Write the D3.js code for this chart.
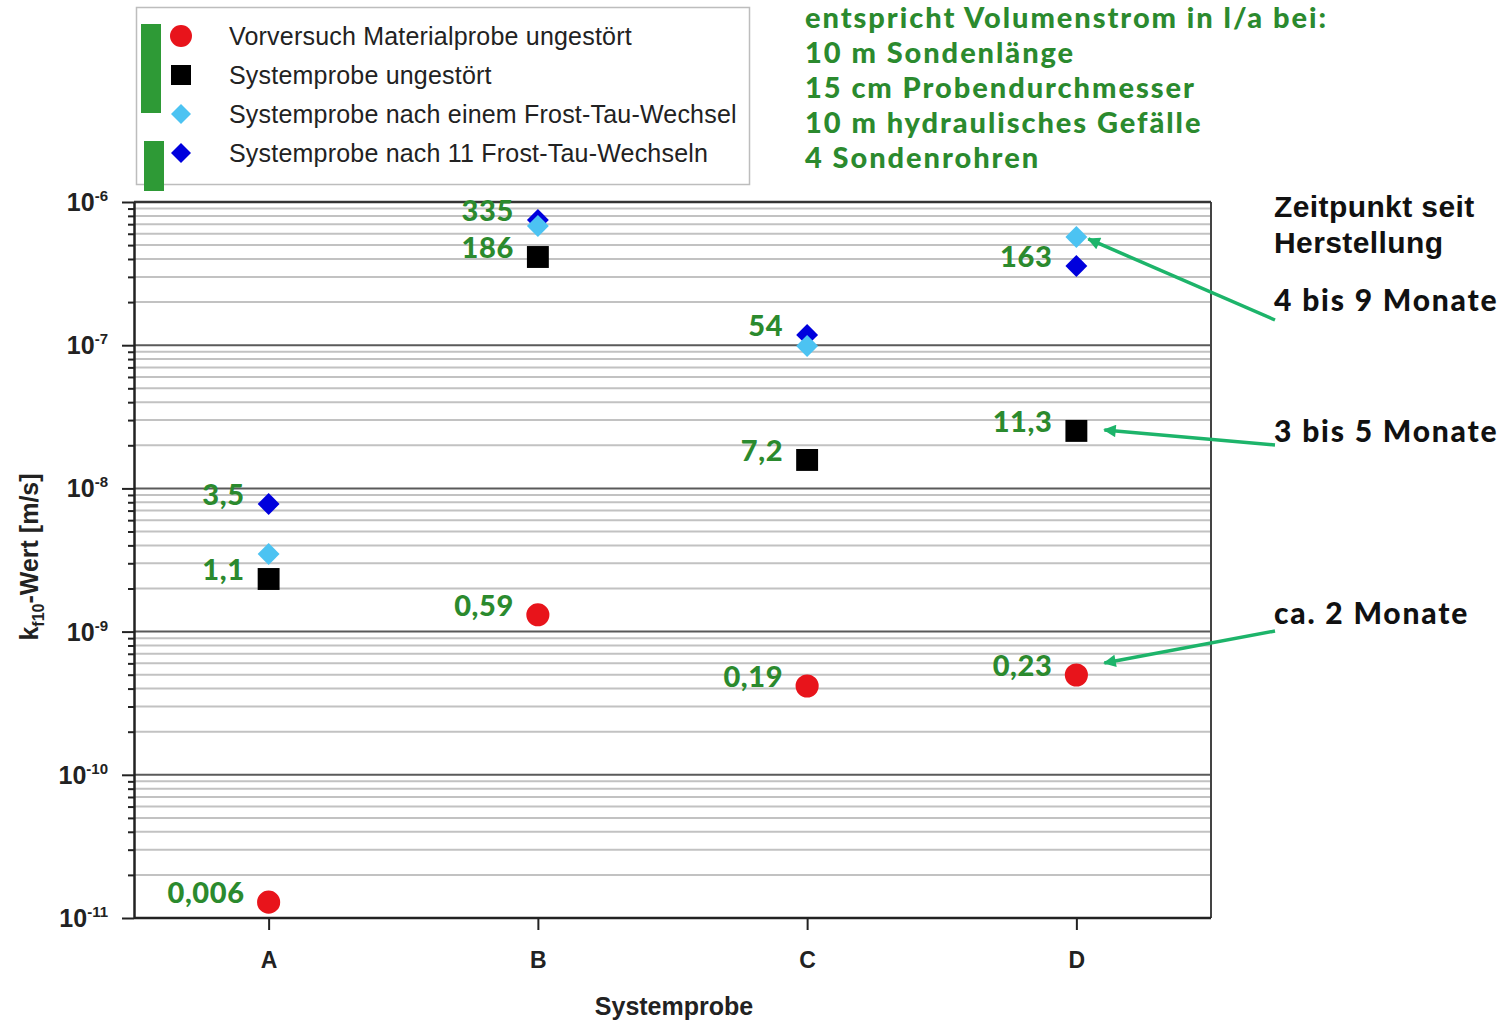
<!DOCTYPE html>
<html>
<head>
<meta charset="utf-8">
<script src="https://cdn.jsdelivr.net/npm/d3@7"></script>
<style>
  body { margin: 0; background: #fff; }
  svg { display: block; }
</style>
</head>
<body>
<svg id="chart" width="1508" height="1022"></svg>
<script>
// Sample categories
const categories = ["A", "B", "C", "D"];

// Series names (legend order)
const seriesNames = [
  "Vorversuch Materialprobe ungestört",
  "Systemprobe ungestört",
  "Systemprobe nach einem Frost-Tau-Wechsel",
  "Systemprobe nach 11 Frost-Tau-Wechseln"
];

// kf10 values in m/s per category
const vorversuch       = [1.29e-11, 1.31e-9, 4.17e-10, 4.98e-10];
const systemUngestoert = [2.33e-9, 4.13e-7, 1.58e-8, 2.52e-8];
const nachEinemWechsel = [3.48e-9, 6.80e-7, 9.87e-8, 5.70e-7];
const nach11Wechseln   = [7.78e-9, 7.48e-7, 1.18e-7, 3.57e-7];

// Volumetric flow in l/a written next to the points
const flowVorversuch = ["0,006", "0,59", "0,19", "0,23"];
const flowSystem     = ["1,1", "186", "7,2", "11,3"];
const flow11         = ["3,5", "335", "54", "163"];

// Decade tick exponents on the y axis
const tickExponents = [-6, -7, -8, -9, -10, -11];

// Side notes
const flowNote = [
  "entspricht Volumenstrom in l/a bei:",
  "10 m Sondenlänge",
  "15 cm Probendurchmesser",
  "10 m hydraulisches Gefälle",
  "4 Sondenrohren"
];
const ageTitle = ["Zeitpunkt seit", "Herstellung"];
const ageLabels = ["4 bis 9 Monate", "3 bis 5 Monate", "ca. 2 Monate"];

const svg = d3.select("#chart");
const plot = { left: 134, right: 1211, top: 202, bottom: 918 };

const x = d3.scalePoint().domain(categories).range([plot.left, plot.right]).padding(0.5);
const y = d3.scaleLog().domain([1e-11, 1e-6]).range([plot.bottom, plot.top]);

const GREEN = "#2b8a2e";
const ARROW = "#1db46a";
const gillish = "Lato, 'Open Sans', sans-serif";
const arial = "'Liberation Sans', Arial, sans-serif";

// ---------- grid lines ----------
const gridVals = [];
for (let e = -11; e < -6; e++) {
  for (let m = 1; m <= 9; m++) gridVals.push(m * Math.pow(10, e));
}
gridVals.push(1e-6);
const isMajor = v => Math.abs(Math.log10(v) - Math.round(Math.log10(v))) < 1e-9;

svg.append("g").selectAll("line").data(gridVals).join("line")
  .attr("x1", plot.left).attr("x2", plot.right)
  .attr("y1", d => y(d)).attr("y2", d => y(d))
  .attr("stroke", d => isMajor(d) ? "#5a5a5a" : "#c2c2c2")
  .attr("stroke-width", 2);

// frame right + top
svg.append("line").attr("x1", plot.right).attr("x2", plot.right)
  .attr("y1", plot.top).attr("y2", plot.bottom).attr("stroke", "#444").attr("stroke-width", 2);
svg.append("line").attr("x1", plot.left).attr("x2", plot.right)
  .attr("y1", plot.top).attr("y2", plot.top).attr("stroke", "#333").attr("stroke-width", 2.5);

// ---------- y axis ----------
const yAxis = d3.axisLeft(y).tickValues(gridVals).tickFormat("")
  .tickSize(0).tickSizeOuter(0);
const gy = svg.append("g").attr("transform", `translate(${plot.left},0)`).call(yAxis);
gy.select(".domain").attr("stroke", "#222").attr("stroke-width", 2.5);
gy.selectAll(".tick line")
  .attr("x2", d => isMajor(d) ? -12 : -6)
  .attr("stroke", "#222").attr("stroke-width", 2);

const yLab = svg.append("g").selectAll("text").data(tickExponents).join("text")
  .attr("x", 108).attr("y", d => y(Math.pow(10, d)) + 9)
  .attr("text-anchor", "end")
  .attr("font-family", arial).attr("font-weight", "bold")
  .attr("font-size", 25).attr("fill", "#222");
yLab.append("tspan").text("10");
yLab.append("tspan").attr("dy", -10).attr("font-size", 15).text(d => String(d));

// ---------- x axis ----------
const xAxis = d3.axisBottom(x).tickSize(12).tickSizeOuter(0).tickPadding(22);
const gx = svg.append("g").attr("transform", `translate(0,${plot.bottom})`).call(xAxis);
gx.select(".domain").attr("stroke", "#222").attr("stroke-width", 2.5)
  .attr("d", `M${plot.left},0H${plot.right}`);
gx.selectAll(".tick line").attr("stroke", "#222").attr("stroke-width", 2);
gx.selectAll(".tick text")
  .attr("font-family", arial).attr("font-weight", "bold")
  .attr("font-size", 23).attr("fill", "#222");

// axis titles
svg.append("text").attr("x", 674).attr("y", 1015).attr("text-anchor", "middle")
  .attr("font-family", arial).attr("font-weight", "bold").attr("font-size", 25)
  .attr("fill", "#222").text("Systemprobe");

const yt = svg.append("text")
  .attr("transform", "translate(38,557) rotate(-90)")
  .attr("text-anchor", "middle")
  .attr("font-family", arial).attr("font-weight", "bold").attr("font-size", 25)
  .attr("fill", "#222");
yt.append("tspan").text("k");
yt.append("tspan").attr("dy", 6).attr("font-size", 16).text("f10");
yt.append("tspan").attr("dy", -6).text("-Wert [m/s]");

// ---------- markers ----------
// rotated square for the diamond markers
const diamond = {
  draw(ctx, size) {
    const r = Math.sqrt(size / 2);
    ctx.moveTo(0, -r); ctx.lineTo(r, 0); ctx.lineTo(0, r); ctx.lineTo(-r, 0); ctx.closePath();
  }
};
const series = [
  { vals: vorversuch,       type: d3.symbolCircle, size: 420, fill: "#e8141b" },
  { vals: systemUngestoert, type: d3.symbolSquare, size: 480, fill: "#000000" },
  { vals: nachEinemWechsel, type: diamond,         size: 240, fill: "#4cc3f2" },
  { vals: nach11Wechseln,   type: diamond,         size: 240, fill: "#0000dd" }
];
const drawOrder = [0, 1, 3, 2];
drawOrder.forEach(i => {
  const s = series[i];
  svg.append("g").selectAll("path").data(categories).join("path")
    .attr("transform", (c, j) => `translate(${x(c)},${y(s.vals[j])})`)
    .attr("d", d3.symbol().type(s.type).size(s.size))
    .attr("fill", s.fill);
});

// ---------- value labels ----------
const labelSets = [
  { vals: vorversuch, text: flowVorversuch },
  { vals: systemUngestoert, text: flowSystem },
  { vals: nach11Wechseln, text: flow11 }
];
labelSets.forEach(set => {
  svg.append("g").selectAll("text").data(categories).join("text")
    .attr("x", c => x(c) - 24)
    .attr("y", (c, j) => y(set.vals[j]) + 1)
    .attr("text-anchor", "end")
    .attr("font-family", gillish).attr("font-weight", 900)
    .attr("font-size", 29).attr("letter-spacing", 0.6).attr("fill", GREEN)
    .text((c, j) => set.text[j]);
});

// ---------- legend ----------
const lg = svg.append("g");
lg.append("rect").attr("x", 136.5).attr("y", 7.5).attr("width", 613).attr("height", 177)
  .attr("fill", "#fff").attr("stroke", "#bdbdbd").attr("stroke-width", 1.5);
lg.append("rect").attr("x", 141).attr("y", 24).attr("width", 20).attr("height", 89).attr("fill", "#2e9a36");
lg.append("rect").attr("x", 144).attr("y", 141).attr("width", 20).attr("height", 50).attr("fill", "#2e9a36");
const legendSymbols = [
  { type: d3.symbolCircle, size: 380, fill: "#e8141b" },
  { type: d3.symbolSquare, size: 400, fill: "#000000" },
  { type: diamond,         size: 200, fill: "#4cc3f2" },
  { type: diamond,         size: 200, fill: "#0000dd" }
];
const legendY = d3.scalePoint().domain(seriesNames).range([36, 153]);
const li = lg.selectAll("g.item").data(seriesNames).join("g").attr("class", "item")
  .attr("transform", d => `translate(0,${legendY(d)})`);
li.append("path").attr("transform", "translate(181,0)")
  .attr("d", (d, i) => d3.symbol().type(legendSymbols[i].type).size(legendSymbols[i].size)())
  .attr("fill", (d, i) => legendSymbols[i].fill);
li.append("text").attr("x", 229).attr("y", 9)
  .attr("font-family", arial).attr("font-size", 25).attr("letter-spacing", 0.2).attr("fill", "#222")
  .text(d => d);

// ---------- flow note ----------
svg.append("g").selectAll("text").data(flowNote).join("text")
  .attr("x", 805).attr("y", (d, i) => 28 + i * 35)
  .attr("font-family", gillish).attr("font-weight", 900)
  .attr("font-size", 29).attr("letter-spacing", 1.95).attr("fill", GREEN)
  .text(d => d);

// ---------- age annotations ----------
svg.append("g").selectAll("text").data(ageTitle).join("text")
  .attr("x", 1274).attr("y", (d, i) => 217 + i * 36)
  .attr("font-family", arial).attr("font-weight", "bold")
  .attr("font-size", 30).attr("letter-spacing", 0.4).attr("fill", "#111").text(d => d);

const ageY = [311, 442, 624];
svg.append("g").selectAll("text").data(ageLabels).join("text")
  .attr("x", 1274).attr("y", (d, i) => ageY[i])
  .attr("font-family", gillish).attr("font-weight", 900)
  .attr("font-size", 30).attr("letter-spacing", 1.8).attr("fill", "#111").text(d => d);

// arrows pointing to the D points
svg.append("defs").append("marker")
  .attr("id", "head").attr("viewBox", "0 0 10 10")
  .attr("refX", 9).attr("refY", 5)
  .attr("markerWidth", 4.5).attr("markerHeight", 3.6)
  .attr("markerUnits", "strokeWidth")
  .attr("orient", "auto")
  .append("path").attr("d", "M0,0L10,5L0,10Z").attr("fill", ARROW);

const dx = x("D");
const arrows = [
  { from: [1275, 320], to: [dx + 12, y(nachEinemWechsel[3]) + 2] },
  { from: [1275, 445], to: [dx + 28, y(systemUngestoert[3]) - 1] },
  { from: [1275, 631], to: [dx + 28, y(vorversuch[3]) - 12] }
];
svg.append("g").selectAll("line").data(arrows).join("line")
  .attr("x1", d => d.from[0]).attr("y1", d => d.from[1])
  .attr("x2", d => d.to[0]).attr("y2", d => d.to[1])
  .attr("stroke", ARROW).attr("stroke-width", 3.5)
  .attr("marker-end", "url(#head)");
</script>
</body>
</html>
